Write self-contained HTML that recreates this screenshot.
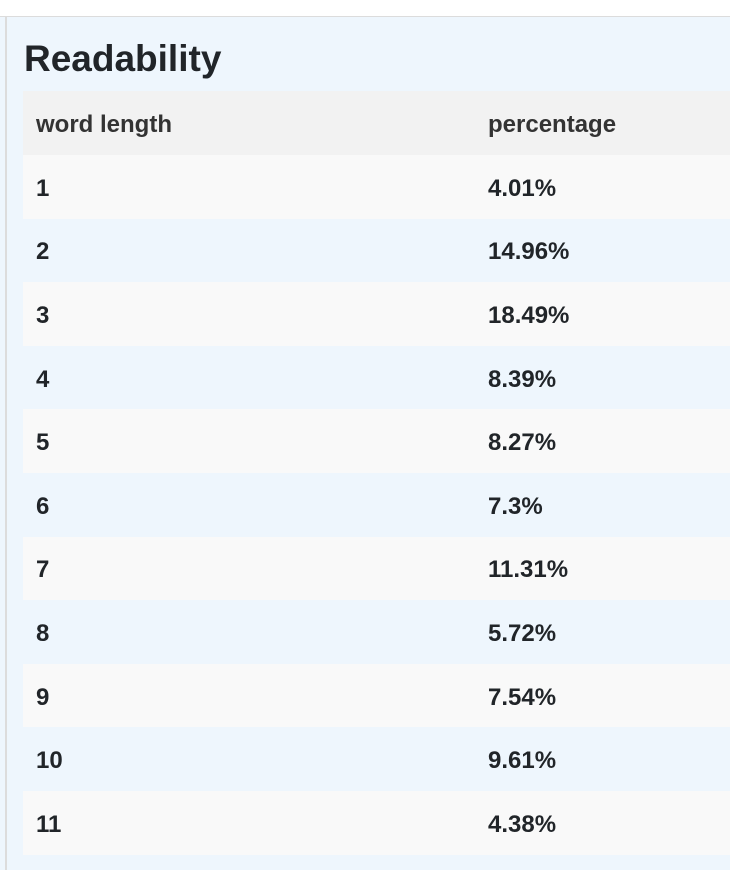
<!DOCTYPE html>
<html><head><meta charset="utf-8"><style>
body{margin:0;width:730px;height:870px;overflow:hidden;background:#fff;font-family:"Liberation Sans",sans-serif;color:#212529;position:relative}
#top{position:absolute;left:0;top:0;width:730px;height:16px;background:#fff;border-bottom:1px solid #dcdcdc}
#side{position:absolute;left:0;top:17px;width:5px;height:853px;background:#eef6fd;border-right:2px solid #dcdcdc}
#panel{position:absolute;left:7px;top:17px;width:723px;height:853px;background:#eef6fd}
h1{position:absolute;left:17px;top:21px;margin:0;font-size:37px;font-weight:bold}
table{position:absolute;left:16px;top:74px;width:707px;border-collapse:collapse}
td,th{font-size:24px;font-weight:bold;text-align:left;padding:4px 0 0 13px;height:59.6px;box-sizing:content-box}
th{height:60px;background:#f2f2f2;color:#333}
tr:nth-child(odd) td{background:#f9f9f9}
tr:nth-child(even) td{background:#eef6fd}
td:first-child,th:first-child{width:439px}
</style></head><body>
<div id="top"></div>
<div id="side"></div>
<div id="panel">
<h1>Readability</h1>
<table>
<thead><tr><th>word length</th><th>percentage</th></tr></thead>
<tbody id="tb"></tbody></table></div>
<script>
const lengths=["1","2","3","4","5","6","7","8","9","10","11"];
const percentages=["4.01%","14.96%","18.49%","8.39%","8.27%","7.3%","11.31%","5.72%","7.54%","9.61%","4.38%"];
const tb=document.getElementById('tb');
lengths.forEach((l,i)=>{
const tr=document.createElement('tr');


const a=document.createElement('td');a.textContent=l;


const b=document.createElement('td');b.textContent=percentages[i];


tr.appendChild(a);tr.appendChild(b);tb.appendChild(tr);
});
</script>
</body></html>
